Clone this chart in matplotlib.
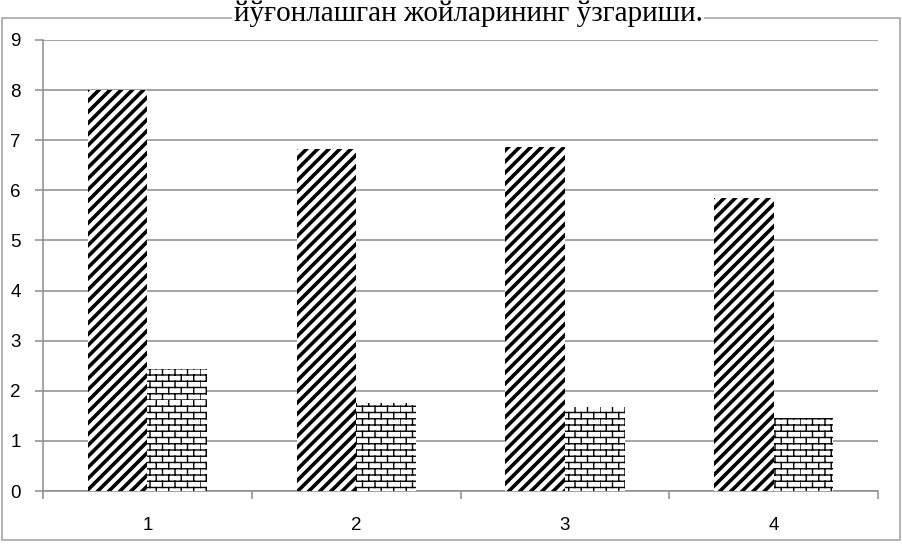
import warnings
import numpy as np
import matplotlib
matplotlib.use("Agg")
import matplotlib.pyplot as plt
import matplotlib.hatch as mhatch
from matplotlib.path import Path
from matplotlib.patches import Rectangle

warnings.filterwarnings("ignore")

categories = ["1", "2", "3", "4"]
series_a = [8.0, 6.82, 6.87, 5.84]
series_b = [2.43, 1.75, 1.68, 1.46]
title = "йўғонлашган жойларининг ўзгариши."


# custom hatches: 'n' = thick diagonal stripes, 'b' = bricks
class DiagHatch(mhatch.HatchPatternBase):
    def __init__(self, hatch, density):
        self.num_lines = 18 * hatch.count('n')
        self.num_vertices = (self.num_lines + 1) * 2 if self.num_lines else 0

    def set_vertices_and_codes(self, vertices, codes):
        steps = np.linspace(-0.5, 0.5, self.num_lines + 1)
        vertices[0::2, 0] = 0.0 + steps
        vertices[0::2, 1] = 0.0 - steps
        vertices[1::2, 0] = 1.0 + steps
        vertices[1::2, 1] = 1.0 - steps
        codes[0::2] = Path.MOVETO
        codes[1::2] = Path.LINETO


class BrickHatch(mhatch.HatchPatternBase):
    def __init__(self, hatch, density):
        n = hatch.count('b')
        self.rows = 16 * n
        self.cols = 8 * n
        self.num_vertices = (self.rows + self.rows * self.cols) * 2

    def set_vertices_and_codes(self, vertices, codes):
        h = 1.0 / self.rows
        w = 1.0 / self.cols
        pts = []
        for i in range(self.rows):
            y0 = i * h
            pts += [(0, y0), (1, y0)]
            off = 0 if i % 2 == 0 else w / 2
            for j in range(self.cols):
                x = j * w + off
                pts += [(x, y0), (x, y0 + h)]
        vertices[:] = pts
        codes[0::2] = Path.MOVETO
        codes[1::2] = Path.LINETO


mhatch._hatch_types.append(DiagHatch)
mhatch._hatch_types.append(BrickHatch)

plt.rcParams['font.family'] = ['Liberation Sans', 'DejaVu Sans']

fig = plt.figure(figsize=(9.02, 5.44), dpi=100)
ax = fig.add_axes([0.0477, 0.0974, 0.9257, 0.8291])

x = np.arange(len(categories))
w = 1 / 3.5

plt.rcParams['hatch.linewidth'] = 2.6
bars_a = ax.bar(x - w / 2, series_a, w, color='white', edgecolor='black',
                linewidth=0, hatch='n', zorder=3)
for b in bars_a:
    if hasattr(b, 'set_hatch_linewidth'):
        b.set_hatch_linewidth(2.6)

plt.rcParams['hatch.linewidth'] = 1.0
bars_b = ax.bar(x + w / 2, series_b, w, color='white', edgecolor='black',
                linewidth=0, hatch='b', zorder=3)
for b in bars_b:
    if hasattr(b, 'set_hatch_linewidth'):
        b.set_hatch_linewidth(1.0)

ax.set_xlim(-0.5, len(categories) - 0.5)
ax.set_ylim(0, 9)
ax.set_yticks(range(10))
ax.yaxis.grid(True, color='#8c8c8c', linewidth=1.1, zorder=0)
ax.set_axisbelow(True)

ax.set_xticks(x)
ax.set_xticklabels(categories)
ax.set_xticks(np.arange(-0.5, len(categories)), minor=True)
ax.tick_params(axis='x', which='major', length=0, pad=19, labelsize=13.5)
ax.tick_params(axis='x', which='minor', length=6, color='#8c8c8c', width=1.1)
ax.tick_params(axis='y', length=6, color='#8c8c8c', width=1.1, pad=10, labelsize=13.5)

for s in ['top', 'right']:
    ax.spines[s].set_visible(False)
for s in ['left', 'bottom']:
    ax.spines[s].set_color('#8c8c8c')
    ax.spines[s].set_linewidth(1.1)

# outer chart frame
fig.patches.append(Rectangle((2 / 902, 4 / 544), 898 / 902, 522 / 544,
                             transform=fig.transFigure, fill=False,
                             edgecolor='#a6a6a6', linewidth=1.2, zorder=0))

fig.text(468 / 902, 1 - 21 / 544, title, ha='center', va='baseline',
         fontsize=21, family=['Liberation Serif', 'DejaVu Serif'],
         bbox=dict(facecolor='white', edgecolor='none', pad=1))

fig.savefig("out.png", dpi=100, facecolor='white')
